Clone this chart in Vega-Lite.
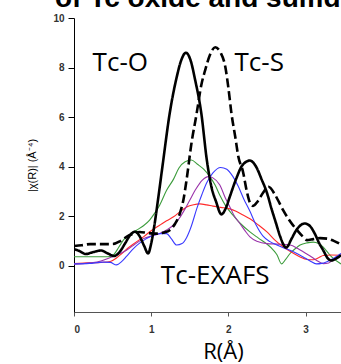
{
  "$schema": "https://vega.github.io/schema/vega-lite/v6.json",
  "width": 267,
  "height": 294,
  "autosize": "none",
  "padding": {"top": 18, "left": 74, "right": 0, "bottom": 52},
  "background": "white",
  "config": {"view": {"stroke": null}},
  "title": {"text": "of Tc oxide and sulfide", "font": "Liberation Sans", "fontSize": 28, "fontWeight": "bold", "anchor": "start", "frame": "group", "dx": -19, "baseline": "alphabetic", "offset": 0, "dy": 22, "color": "#000"},
  "datasets": {
    "colored": [
      {"s":"green","R":0,"v":0.37},{"s":"green","R":0.2,"v":0.37},{"s":"green","R":0.4,"v":0.37},{"s":"green","R":0.47,"v":0.38},{"s":"green","R":0.52,"v":0.47},{"s":"green","R":0.58,"v":0.75},{"s":"green","R":0.64,"v":1.04},{"s":"green","R":0.72,"v":1.25},{"s":"green","R":0.81,"v":1.44},{"s":"green","R":0.9,"v":1.62},{"s":"green","R":0.98,"v":1.85},{"s":"green","R":1.05,"v":2.15},{"s":"green","R":1.11,"v":2.45},{"s":"green","R":1.2,"v":3.05},{"s":"green","R":1.29,"v":3.5},{"s":"green","R":1.36,"v":3.95},{"s":"green","R":1.44,"v":4.2},{"s":"green","R":1.52,"v":4.27},{"s":"green","R":1.6,"v":4.1},{"s":"green","R":1.68,"v":3.9},{"s":"green","R":1.76,"v":3.6},{"s":"green","R":1.83,"v":3.25},{"s":"green","R":1.89,"v":2.85},{"s":"green","R":1.97,"v":2.4},{"s":"green","R":2.06,"v":2.05},{"s":"green","R":2.16,"v":1.7},{"s":"green","R":2.28,"v":1.37},{"s":"green","R":2.39,"v":1.12},{"s":"green","R":2.5,"v":0.88},{"s":"green","R":2.58,"v":0.65},{"s":"green","R":2.63,"v":0.45},{"s":"green","R":2.69,"v":0.08},{"s":"green","R":2.74,"v":0.25},{"s":"green","R":2.8,"v":0.5},{"s":"green","R":2.87,"v":0.7},{"s":"green","R":2.93,"v":0.84},{"s":"green","R":3.02,"v":0.93},{"s":"green","R":3.1,"v":0.96},{"s":"green","R":3.17,"v":0.9},{"s":"green","R":3.23,"v":0.76},{"s":"green","R":3.3,"v":0.5},{"s":"green","R":3.36,"v":0.3},{"s":"green","R":3.46,"v":0.08},
      {"s":"red","R":0,"v":0.09},{"s":"red","R":0.2,"v":0.12},{"s":"red","R":0.35,"v":0.14},{"s":"red","R":0.47,"v":0.18},{"s":"red","R":0.55,"v":0.32},{"s":"red","R":0.62,"v":0.5},{"s":"red","R":0.7,"v":0.72},{"s":"red","R":0.8,"v":0.95},{"s":"red","R":0.9,"v":1.17},{"s":"red","R":1.0,"v":1.42},{"s":"red","R":1.11,"v":1.64},{"s":"red","R":1.2,"v":1.82},{"s":"red","R":1.29,"v":1.98},{"s":"red","R":1.38,"v":2.2},{"s":"red","R":1.46,"v":2.38},{"s":"red","R":1.55,"v":2.47},{"s":"red","R":1.63,"v":2.5},{"s":"red","R":1.72,"v":2.46},{"s":"red","R":1.8,"v":2.41},{"s":"red","R":1.9,"v":2.36},{"s":"red","R":2.02,"v":2.3},{"s":"red","R":2.1,"v":2.2},{"s":"red","R":2.19,"v":2.05},{"s":"red","R":2.28,"v":1.9},{"s":"red","R":2.39,"v":1.65},{"s":"red","R":2.5,"v":1.37},{"s":"red","R":2.6,"v":1.05},{"s":"red","R":2.71,"v":0.77},{"s":"red","R":2.82,"v":0.55},{"s":"red","R":2.93,"v":0.36},{"s":"red","R":3.02,"v":0.26},{"s":"red","R":3.1,"v":0.25},{"s":"red","R":3.17,"v":0.33},{"s":"red","R":3.23,"v":0.42},{"s":"red","R":3.33,"v":0.44},{"s":"red","R":3.46,"v":0.43},
      {"s":"purple","R":0,"v":0.07},{"s":"purple","R":0.2,"v":0.12},{"s":"purple","R":0.35,"v":0.2},{"s":"purple","R":0.47,"v":0.34},{"s":"purple","R":0.58,"v":0.48},{"s":"purple","R":0.68,"v":0.63},{"s":"purple","R":0.8,"v":0.9},{"s":"purple","R":0.9,"v":1.1},{"s":"purple","R":1.0,"v":1.2},{"s":"purple","R":1.11,"v":1.31},{"s":"purple","R":1.2,"v":1.45},{"s":"purple","R":1.29,"v":1.65},{"s":"purple","R":1.36,"v":1.9},{"s":"purple","R":1.43,"v":2.25},{"s":"purple","R":1.5,"v":2.65},{"s":"purple","R":1.58,"v":3.1},{"s":"purple","R":1.66,"v":3.45},{"s":"purple","R":1.74,"v":3.6},{"s":"purple","R":1.8,"v":3.55},{"s":"purple","R":1.89,"v":3.26},{"s":"purple","R":1.96,"v":2.75},{"s":"purple","R":2.02,"v":2.38},{"s":"purple","R":2.08,"v":2.0},{"s":"purple","R":2.15,"v":1.71},{"s":"purple","R":2.22,"v":1.4},{"s":"purple","R":2.28,"v":1.17},{"s":"purple","R":2.38,"v":0.98},{"s":"purple","R":2.5,"v":0.9},{"s":"purple","R":2.63,"v":0.88},{"s":"purple","R":2.8,"v":0.84},{"s":"purple","R":2.9,"v":0.7},{"s":"purple","R":2.97,"v":0.57},{"s":"purple","R":3.06,"v":0.4},{"s":"purple","R":3.14,"v":0.23},{"s":"purple","R":3.23,"v":0.09},{"s":"purple","R":3.3,"v":0.12},{"s":"purple","R":3.38,"v":0.3},{"s":"purple","R":3.46,"v":0.43},
      {"s":"blue","R":0,"v":0.08},{"s":"blue","R":0.2,"v":0.1},{"s":"blue","R":0.38,"v":0.15},{"s":"blue","R":0.47,"v":0.14},{"s":"blue","R":0.55,"v":0.04},{"s":"blue","R":0.62,"v":0.18},{"s":"blue","R":0.68,"v":0.38},{"s":"blue","R":0.77,"v":0.7},{"s":"blue","R":0.85,"v":0.92},{"s":"blue","R":0.94,"v":1.1},{"s":"blue","R":1.03,"v":1.24},{"s":"blue","R":1.12,"v":1.3},{"s":"blue","R":1.2,"v":1.3},{"s":"blue","R":1.26,"v":1.1},{"s":"blue","R":1.33,"v":0.84},{"s":"blue","R":1.4,"v":0.9},{"s":"blue","R":1.46,"v":1.15},{"s":"blue","R":1.52,"v":1.6},{"s":"blue","R":1.59,"v":2.3},{"s":"blue","R":1.66,"v":2.9},{"s":"blue","R":1.72,"v":3.35},{"s":"blue","R":1.8,"v":3.75},{"s":"blue","R":1.9,"v":3.97},{"s":"blue","R":1.98,"v":3.9},{"s":"blue","R":2.06,"v":3.6},{"s":"blue","R":2.13,"v":3.2},{"s":"blue","R":2.2,"v":2.7},{"s":"blue","R":2.28,"v":2.2},{"s":"blue","R":2.36,"v":1.65},{"s":"blue","R":2.45,"v":1.2},{"s":"blue","R":2.54,"v":0.98},{"s":"blue","R":2.63,"v":0.84},{"s":"blue","R":2.72,"v":0.72},{"s":"blue","R":2.8,"v":0.63},{"s":"blue","R":2.9,"v":0.48},{"s":"blue","R":2.97,"v":0.36},{"s":"blue","R":3.06,"v":0.2},{"s":"blue","R":3.14,"v":0.08},{"s":"blue","R":3.21,"v":0.1},{"s":"blue","R":3.27,"v":0.16},{"s":"blue","R":3.36,"v":0.3},{"s":"blue","R":3.46,"v":0.5}
    ],
    "black": [
      {"s":"Tc-S","R":0,"v":0.8},{"s":"Tc-S","R":0.1,"v":0.83},{"s":"Tc-S","R":0.21,"v":0.88},{"s":"Tc-S","R":0.35,"v":0.88},{"s":"Tc-S","R":0.5,"v":0.88},{"s":"Tc-S","R":0.6,"v":1.0},{"s":"Tc-S","R":0.68,"v":1.17},{"s":"Tc-S","R":0.77,"v":1.3},{"s":"Tc-S","R":0.85,"v":1.37},{"s":"Tc-S","R":0.95,"v":1.33},{"s":"Tc-S","R":1.07,"v":1.3},{"s":"Tc-S","R":1.17,"v":1.35},{"s":"Tc-S","R":1.24,"v":1.44},{"s":"Tc-S","R":1.31,"v":1.7},{"s":"Tc-S","R":1.37,"v":2.1},{"s":"Tc-S","R":1.42,"v":2.7},{"s":"Tc-S","R":1.46,"v":3.5},{"s":"Tc-S","R":1.52,"v":4.9},{"s":"Tc-S","R":1.59,"v":6.16},{"s":"Tc-S","R":1.65,"v":7.3},{"s":"Tc-S","R":1.7,"v":7.9},{"s":"Tc-S","R":1.76,"v":8.5},{"s":"Tc-S","R":1.83,"v":8.82},{"s":"Tc-S","R":1.9,"v":8.6},{"s":"Tc-S","R":1.96,"v":8.04},{"s":"Tc-S","R":2.0,"v":7.2},{"s":"Tc-S","R":2.04,"v":6.16},{"s":"Tc-S","R":2.09,"v":5.2},{"s":"Tc-S","R":2.13,"v":4.4},{"s":"Tc-S","R":2.19,"v":3.8},{"s":"Tc-S","R":2.24,"v":3.0},{"s":"Tc-S","R":2.28,"v":2.55},{"s":"Tc-S","R":2.32,"v":2.42},{"s":"Tc-S","R":2.38,"v":2.6},{"s":"Tc-S","R":2.45,"v":2.95},{"s":"Tc-S","R":2.52,"v":3.19},{"s":"Tc-S","R":2.6,"v":2.9},{"s":"Tc-S","R":2.66,"v":2.55},{"s":"Tc-S","R":2.71,"v":2.25},{"s":"Tc-S","R":2.8,"v":1.8},{"s":"Tc-S","R":2.89,"v":1.44},{"s":"Tc-S","R":2.96,"v":1.2},{"s":"Tc-S","R":3.02,"v":1.04},{"s":"Tc-S","R":3.1,"v":1.08},{"s":"Tc-S","R":3.19,"v":1.12},{"s":"Tc-S","R":3.28,"v":1.1},{"s":"Tc-S","R":3.36,"v":1.02},{"s":"Tc-S","R":3.46,"v":0.86},
      {"s":"Tc-O","R":0,"v":0.68},{"s":"Tc-O","R":0.07,"v":0.6},{"s":"Tc-O","R":0.15,"v":0.48},{"s":"Tc-O","R":0.25,"v":0.56},{"s":"Tc-O","R":0.35,"v":0.62},{"s":"Tc-O","R":0.44,"v":0.5},{"s":"Tc-O","R":0.52,"v":0.4},{"s":"Tc-O","R":0.6,"v":0.6},{"s":"Tc-O","R":0.67,"v":0.95},{"s":"Tc-O","R":0.73,"v":1.25},{"s":"Tc-O","R":0.79,"v":1.38},{"s":"Tc-O","R":0.85,"v":1.2},{"s":"Tc-O","R":0.91,"v":0.8},{"s":"Tc-O","R":0.96,"v":0.5},{"s":"Tc-O","R":1.0,"v":0.9},{"s":"Tc-O","R":1.04,"v":1.6},{"s":"Tc-O","R":1.09,"v":2.7},{"s":"Tc-O","R":1.15,"v":4.1},{"s":"Tc-O","R":1.24,"v":6.15},{"s":"Tc-O","R":1.33,"v":7.6},{"s":"Tc-O","R":1.39,"v":8.3},{"s":"Tc-O","R":1.45,"v":8.6},{"s":"Tc-O","R":1.51,"v":8.3},{"s":"Tc-O","R":1.57,"v":7.5},{"s":"Tc-O","R":1.65,"v":6.15},{"s":"Tc-O","R":1.72,"v":4.3},{"s":"Tc-O","R":1.78,"v":3.2},{"s":"Tc-O","R":1.84,"v":2.6},{"s":"Tc-O","R":1.91,"v":2.08},{"s":"Tc-O","R":1.97,"v":2.35},{"s":"Tc-O","R":2.02,"v":2.8},{"s":"Tc-O","R":2.1,"v":3.5},{"s":"Tc-O","R":2.18,"v":4.05},{"s":"Tc-O","R":2.28,"v":4.25},{"s":"Tc-O","R":2.36,"v":4.0},{"s":"Tc-O","R":2.43,"v":3.5},{"s":"Tc-O","R":2.5,"v":2.95},{"s":"Tc-O","R":2.56,"v":2.3},{"s":"Tc-O","R":2.62,"v":1.7},{"s":"Tc-O","R":2.67,"v":1.2},{"s":"Tc-O","R":2.75,"v":0.74},{"s":"Tc-O","R":2.82,"v":1.1},{"s":"Tc-O","R":2.88,"v":1.44},{"s":"Tc-O","R":2.99,"v":1.71},{"s":"Tc-O","R":3.06,"v":1.6},{"s":"Tc-O","R":3.12,"v":1.3},{"s":"Tc-O","R":3.18,"v":0.9},{"s":"Tc-O","R":3.23,"v":0.63},{"s":"Tc-O","R":3.29,"v":0.3},{"s":"Tc-O","R":3.33,"v":0.22},{"s":"Tc-O","R":3.4,"v":0.3},{"s":"Tc-O","R":3.46,"v":0.43}
    ],
    "labels": [
      {"label":"Tc-O","R":0.6,"v":8.19},
      {"label":"Tc-S","R":2.4,"v":8.19},
      {"label":"Tc-EXAFS","R":1.83,"v":-0.42}
    ]
  },
  "encoding": {
    "x": {"field": "R", "type": "quantitative", "scale": {"domain": [0, 3.46], "nice": false, "zero": false},
      "axis": {"values": [0,1,2,3], "format": "d", "grid": false, "labelFont": "Liberation Sans", "labelFontWeight": "bold", "labelFontSize": 10, "labelColor": "#333", "tickSize": 4, "tickColor": "#555", "domainColor": "#555", "labelPadding": 8, "title": "R(Å)", "titleFont": "Open Sans", "titleFontSize": 22, "titleFontWeight": "normal", "titleColor": "#000", "titleX": 149, "titleY": 46, "titleBaseline": "alphabetic", "titleAlign": "center"}},
    "y": {"field": "v", "type": "quantitative", "scale": {"domain": [-1.86, 10], "nice": false, "zero": false},
      "axis": {"values": [0,2,4,6,8,10], "grid": false, "labelFont": "Liberation Sans", "labelFontWeight": "bold", "labelFontSize": 10, "labelColor": "#333", "tickSize": 6, "tickColor": "#000", "domainColor": "#000", "labelPadding": 4, "title": "|χ(R)| (Å⁻⁴)", "titleFont": "Liberation Sans", "titleFontSize": 11, "titleFontWeight": "normal", "titleColor": "#000", "titleX": -42, "titleY": 147, "titleAngle": -90, "titleAlign": "center", "titleBaseline": "middle"}}
  },
  "layer": [
    {
      "data": {"name": "colored"},
      "mark": {"type": "line", "strokeWidth": 1.1, "interpolate": "monotone", "clip": true},
      "encoding": {
        "color": {"field": "s", "type": "nominal", "scale": {"domain": ["green","red","purple","blue"], "range": ["#3c9c3c","#ff2a2a","#9a33aa","#3a3aff"]}, "legend": null}
      }
    },
    {
      "data": {"name": "black"},
      "mark": {"type": "line", "strokeWidth": 2.6, "color": "#000", "interpolate": "monotone", "clip": true},
      "encoding": {
        "strokeDash": {"field": "s", "type": "nominal", "scale": {"domain": ["Tc-O","Tc-S"], "range": [[1,0],[9,4]]}, "legend": null}
      }
    },
    {
      "data": {"name": "labels"},
      "mark": {"type": "text", "font": "Open Sans", "fontSize": 26, "align": "center", "baseline": "middle", "color": "#000"},
      "encoding": {"text": {"field": "label"}}
    }
  ]
}
